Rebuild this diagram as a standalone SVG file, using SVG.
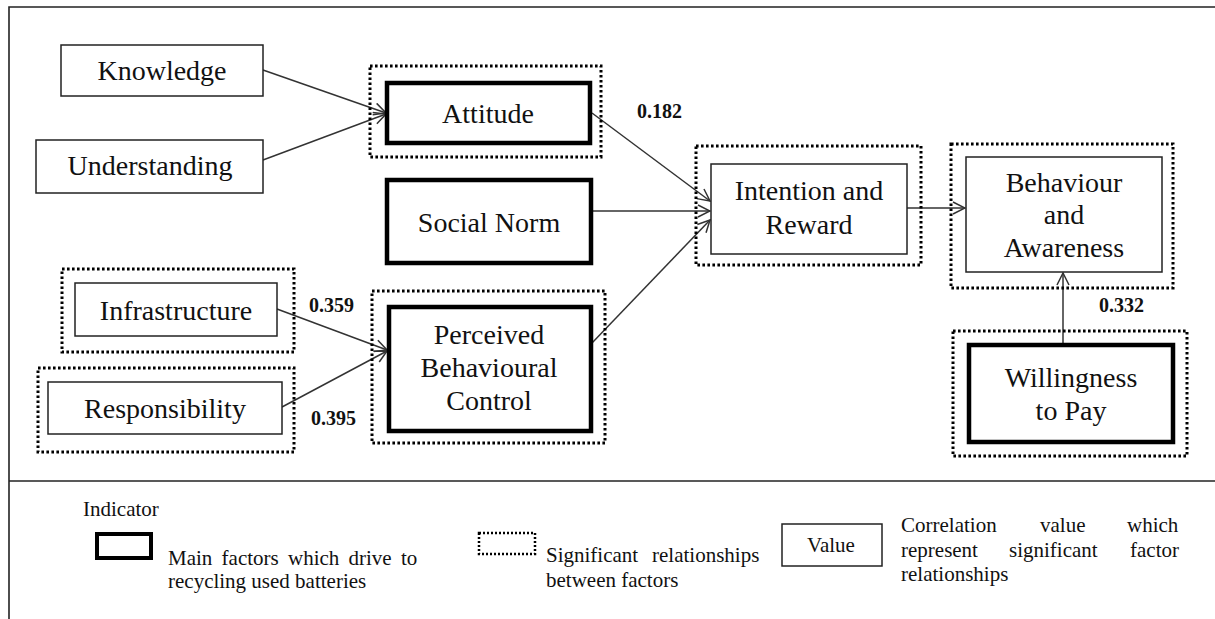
<svg xmlns="http://www.w3.org/2000/svg" width="1215" height="619" viewBox="0 0 1215 619">
<defs>
<style>
.frame{stroke:#222;stroke-width:1.6;fill:none}
.box{fill:#fff;stroke:#222;stroke-width:1.5}
.thick{fill:#fff;stroke:#000;stroke-width:4.5}
.dot{fill:none;stroke:#000;stroke-width:3;stroke-dasharray:2.6 2.4}
.t{font-family:"Liberation Serif","Times New Roman",serif;font-size:28px;fill:#111;text-anchor:middle}
.num{font-family:"Liberation Serif","Times New Roman",serif;font-size:20px;font-weight:bold;fill:#111}
.lg{font-family:"Liberation Serif","Times New Roman",serif;font-size:21px;fill:#111}
.ln{stroke:#333;stroke-width:1.5;fill:none}
</style>
<marker id="arr" viewBox="0 0 14 14" refX="13" refY="7" markerWidth="14" markerHeight="14" markerUnits="userSpaceOnUse" orient="auto">
<path d="M1,1 L13,7 L1,13" fill="none" stroke="#333" stroke-width="1.5"/>
</marker>
</defs>
<rect width="1215" height="619" fill="#fff"/>
<g id="frame">
<path class="frame" d="M9,619 V7 H1215"/>
<path class="frame" d="M9,481 H1215"/>
</g>
<g id="connectors">
<line class="ln" x1="263" y1="70" x2="386" y2="113" marker-end="url(#arr)"/>
<line class="ln" x1="263" y1="160" x2="386" y2="114" marker-end="url(#arr)"/>
<line class="ln" x1="592" y1="113" x2="710" y2="201" marker-end="url(#arr)"/>
<line class="ln" x1="592" y1="211" x2="710" y2="211" marker-end="url(#arr)"/>
<line class="ln" x1="592" y1="343" x2="710" y2="220" marker-end="url(#arr)"/>
<line class="ln" x1="907" y1="208" x2="965" y2="208" marker-end="url(#arr)"/>
<line class="ln" x1="1063" y1="344" x2="1063" y2="273" marker-end="url(#arr)"/>
<line class="ln" x1="277" y1="309" x2="387" y2="350" marker-end="url(#arr)"/>
<line class="ln" x1="282" y1="407" x2="387" y2="351" marker-end="url(#arr)"/>
</g>
<g id="knowledge">
<rect class="box" x="61" y="45" width="202" height="51"/>
<text class="t" x="162" y="80">Knowledge</text>
</g>
<g id="understanding">
<rect class="box" x="36" y="140" width="227" height="53"/>
<text class="t" x="150" y="175">Understanding</text>
</g>
<g id="attitude">
<rect class="dot" x="370" y="66" width="231" height="91"/>
<rect class="thick" x="387" y="83" width="203" height="60"/>
<text class="t" x="488" y="123">Attitude</text>
</g>
<g id="social-norm">
<rect class="thick" x="387" y="180" width="204" height="83"/>
<text class="t" x="489" y="232">Social Norm</text>
</g>
<g id="infrastructure">
<rect class="dot" x="62" y="269" width="232" height="83"/>
<rect class="box" x="75" y="283" width="202" height="53"/>
<text class="t" x="176" y="320">Infrastructure</text>
</g>
<g id="responsibility">
<rect class="dot" x="38" y="368" width="256" height="84"/>
<rect class="box" x="48" y="382" width="234" height="52"/>
<text class="t" x="165" y="418">Responsibility</text>
</g>
<g id="pbc">
<rect class="dot" x="372" y="291" width="233" height="152"/>
<rect class="thick" x="389" y="307" width="202" height="124"/>
<text class="t" x="489" y="344">Perceived</text>
<text class="t" x="489" y="377">Behavioural</text>
<text class="t" x="489" y="410">Control</text>
</g>
<g id="intention">
<rect class="dot" x="696" y="146" width="225" height="119"/>
<rect class="box" x="711" y="164" width="196" height="90"/>
<text class="t" x="809" y="200">Intention and</text>
<text class="t" x="809" y="234">Reward</text>
</g>
<g id="behaviour">
<rect class="dot" x="951" y="144" width="222" height="144"/>
<rect class="box" x="966" y="157" width="196" height="115"/>
<text class="t" x="1064" y="192">Behaviour</text>
<text class="t" x="1064" y="224">and</text>
<text class="t" x="1064" y="257">Awareness</text>
</g>
<g id="willingness">
<rect class="dot" x="953" y="331" width="234" height="125"/>
<rect class="thick" x="969" y="345" width="204" height="97"/>
<text class="t" x="1071" y="387">Willingness</text>
<text class="t" x="1071" y="420">to Pay</text>
</g>
<g id="values">
<text class="num" x="637" y="118">0.182</text>
<text class="num" x="309" y="312">0.359</text>
<text class="num" x="311" y="425">0.395</text>
<text class="num" x="1099" y="312">0.332</text>
</g>
<g id="legend">
<text class="lg" x="83" y="516">Indicator</text>
<rect x="97" y="534" width="54" height="24" fill="#fff" stroke="#000" stroke-width="4"/>
<text class="lg" x="168" y="565" word-spacing="4">Main factors which drive to</text>
<text class="lg" x="168" y="588">recycling used batteries</text>
<rect x="479" y="533" width="56" height="21" fill="none" stroke="#000" stroke-width="2.5" stroke-dasharray="2 2"/>
<text class="lg" y="562"><tspan x="546">Significant</tspan><tspan x="652">relationships</tspan></text>
<text class="lg" x="546" y="587">between factors</text>
<rect x="782" y="524" width="100" height="42" fill="#fff" stroke="#222" stroke-width="1.5"/>
<text class="lg" x="831" y="552" text-anchor="middle">Value</text>
<text class="lg" y="532"><tspan x="901">Correlation</tspan><tspan x="1040">value</tspan><tspan x="1127">which</tspan></text>
<text class="lg" y="557"><tspan x="901">represent</tspan><tspan x="1009">significant</tspan><tspan x="1130">factor</tspan></text>
<text class="lg" x="901" y="581">relationships</text>
</g>
</svg>
